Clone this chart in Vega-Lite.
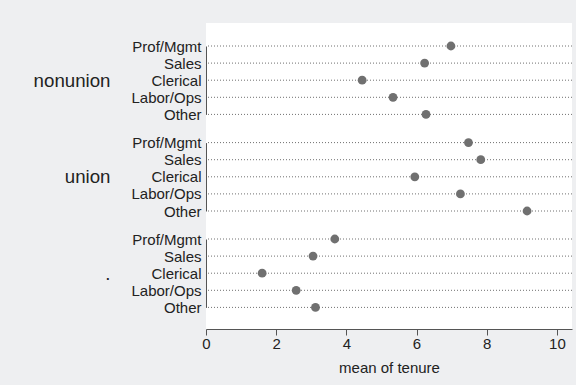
{
  "$schema": "https://vega.github.io/schema/vega-lite/v6.json",
  "background": "#eeeff1",
  "padding": {"left": 33, "top": 23, "right": 5, "bottom": 10},
  "spacing": 0,
  "config": {
    "view": {"stroke": null, "fill": "white"},
    "font": "Liberation Sans",
    "axis": {"grid": false, "domainColor": "#555555", "tickColor": "#555555", "labelColor": "#222222", "titleColor": "#222222", "labelFont": "Liberation Sans", "titleFont": "Liberation Sans", "titleFontWeight": "normal"}
  },
  "data": {"values": [
    {"group": "nonunion", "cat": "Prof/Mgmt", "tenure": 6.98},
    {"group": "nonunion", "cat": "Sales", "tenure": 6.23},
    {"group": "nonunion", "cat": "Clerical", "tenure": 4.45},
    {"group": "nonunion", "cat": "Labor/Ops", "tenure": 5.33},
    {"group": "nonunion", "cat": "Other", "tenure": 6.27},
    {"group": "union", "cat": "Prof/Mgmt", "tenure": 7.48},
    {"group": "union", "cat": "Sales", "tenure": 7.83},
    {"group": "union", "cat": "Clerical", "tenure": 5.95},
    {"group": "union", "cat": "Labor/Ops", "tenure": 7.25},
    {"group": "union", "cat": "Other", "tenure": 9.15},
    {"group": ".", "cat": "Prof/Mgmt", "tenure": 3.67},
    {"group": ".", "cat": "Sales", "tenure": 3.05},
    {"group": ".", "cat": "Clerical", "tenure": 1.6},
    {"group": ".", "cat": "Labor/Ops", "tenure": 2.57},
    {"group": ".", "cat": "Other", "tenure": 3.12}
  ]},
  "vconcat": [
    {
      "width": 366, "height": 105,
      "transform": [{"filter": "datum.group === 'nonunion'"}],
      "encoding": {
        "y": {"field": "cat", "type": "nominal", "sort": ["Prof/Mgmt", "Sales", "Clerical", "Labor/Ops", "Other"],
          "scale": {"type": "point", "padding": 0, "range": [23, 91.4]},
          "axis": {"title": "nonunion", "ticks": false, "labelPadding": 5, "labelFontSize": 15, "titleFontSize": 18.7, "titleAngle": 0, "titleAlign": "right", "titleBaseline": "middle", "titleX": -96, "titleY": 57.2}}
      },
      "layer": [
        {"mark": {"type": "rule", "strokeDash": [1, 2], "color": "#707070", "strokeWidth": 1}},
        {"mark": {"type": "circle", "size": 78, "color": "#707070", "opacity": 1},
          "encoding": {"x": {"field": "tenure", "type": "quantitative", "scale": {"domain": [0, 10.43], "nice": false}, "axis": null}}}
      ]
    },
    {
      "width": 366, "height": 97,
      "transform": [{"filter": "datum.group === 'union'"}],
      "encoding": {
        "y": {"field": "cat", "type": "nominal", "sort": ["Prof/Mgmt", "Sales", "Clerical", "Labor/Ops", "Other"],
          "scale": {"type": "point", "padding": 0, "range": [14.6, 83]},
          "axis": {"title": "union", "ticks": false, "labelPadding": 5, "labelFontSize": 15, "titleFontSize": 18.7, "titleAngle": 0, "titleAlign": "right", "titleBaseline": "middle", "titleX": -96, "titleY": 48.8}}
      },
      "layer": [
        {"mark": {"type": "rule", "strokeDash": [1, 2], "color": "#707070", "strokeWidth": 1}},
        {"mark": {"type": "circle", "size": 78, "color": "#707070", "opacity": 1},
          "encoding": {"x": {"field": "tenure", "type": "quantitative", "scale": {"domain": [0, 10.43], "nice": false}, "axis": null}}}
      ]
    },
    {
      "width": 366, "height": 104,
      "transform": [{"filter": "datum.group === '.'"}],
      "encoding": {
        "y": {"field": "cat", "type": "nominal", "sort": ["Prof/Mgmt", "Sales", "Clerical", "Labor/Ops", "Other"],
          "scale": {"type": "point", "padding": 0, "range": [14, 82.4]},
          "axis": {"title": ".", "ticks": false, "labelPadding": 5, "labelFontSize": 15, "titleFontSize": 18.7, "titleAngle": 0, "titleAlign": "right", "titleBaseline": "middle", "titleX": -96, "titleY": 48.2}}
      },
      "layer": [
        {"mark": {"type": "rule", "strokeDash": [1, 2], "color": "#707070", "strokeWidth": 1}},
        {"mark": {"type": "circle", "size": 78, "color": "#707070", "opacity": 1},
          "encoding": {"x": {"field": "tenure", "type": "quantitative", "scale": {"domain": [0, 10.43], "nice": false},
            "axis": {"title": "mean of tenure", "values": [0, 2, 4, 6, 8, 10], "tickSize": 6, "labelPadding": 1, "labelFontSize": 15, "titleFontSize": 15, "titlePadding": 9, "labelFlush": false}}}}
      ]
    }
  ]
}
